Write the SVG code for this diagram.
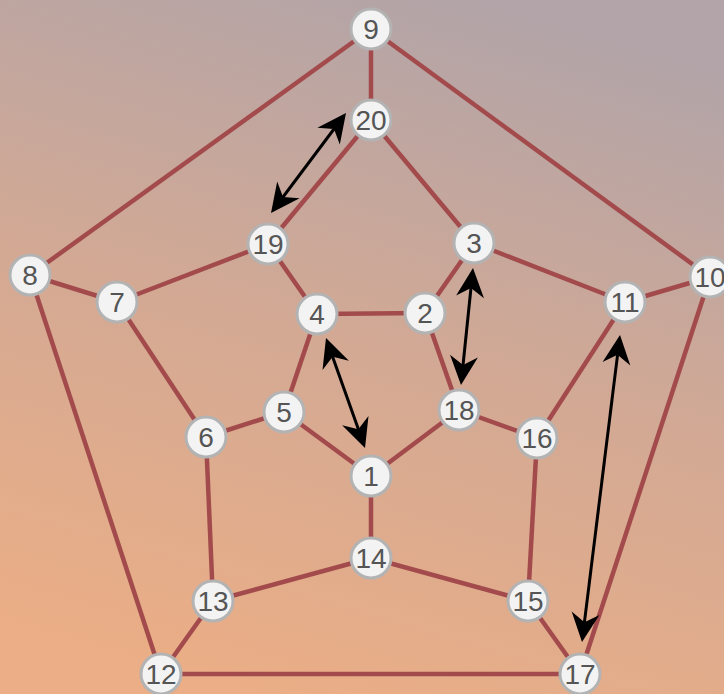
<svg xmlns="http://www.w3.org/2000/svg" width="724" height="694" viewBox="0 0 724 694">
<defs>
<linearGradient id="bg" x1="0.65" y1="0" x2="0.35" y2="1">
<stop offset="0" stop-color="#b2a4a8"/>
<stop offset="0.5" stop-color="#d3a994"/>
<stop offset="1" stop-color="#ebae86"/>
</linearGradient>
<path id="head" d="M0,0 L-29,-14 L-20,0 L-29,14 z" fill="#000"/>
<style>
.e{stroke:#a34b4c;stroke-width:4.5;fill:none}
.a{stroke:#000;stroke-width:3;fill:none}
.n circle{fill:#f3f3f3;stroke:#b3b3b3;stroke-width:3}
.n text{font-family:"Liberation Sans",Arial,sans-serif;font-size:28px;fill:#555;text-anchor:middle}
</style>
</defs>
<rect width="724" height="694" fill="url(#bg)"/>
<g id="edges">
<line class="e" x1="371" y1="29" x2="371" y2="120"/>
<line class="e" x1="371" y1="29" x2="30" y2="275"/>
<line class="e" x1="371" y1="29" x2="710" y2="277"/>
<line class="e" x1="371" y1="120" x2="268" y2="244"/>
<line class="e" x1="371" y1="120" x2="474" y2="243"/>
<line class="e" x1="268" y1="244" x2="117" y2="302"/>
<line class="e" x1="268" y1="244" x2="317" y2="314"/>
<line class="e" x1="474" y1="243" x2="425" y2="313"/>
<line class="e" x1="474" y1="243" x2="625" y2="302"/>
<line class="e" x1="30" y1="275" x2="117" y2="302"/>
<line class="e" x1="30" y1="275" x2="161" y2="674"/>
<line class="e" x1="710" y1="277" x2="625" y2="302"/>
<line class="e" x1="710" y1="277" x2="580" y2="674"/>
<line class="e" x1="117" y1="302" x2="206" y2="437"/>
<line class="e" x1="625" y1="302" x2="537" y2="438"/>
<line class="e" x1="317" y1="314" x2="425" y2="313"/>
<line class="e" x1="317" y1="314" x2="284" y2="412"/>
<line class="e" x1="425" y1="313" x2="459" y2="410"/>
<line class="e" x1="284" y1="412" x2="206" y2="437"/>
<line class="e" x1="284" y1="412" x2="371" y2="476"/>
<line class="e" x1="459" y1="410" x2="371" y2="476"/>
<line class="e" x1="459" y1="410" x2="537" y2="438"/>
<line class="e" x1="206" y1="437" x2="213" y2="601"/>
<line class="e" x1="537" y1="438" x2="528" y2="601"/>
<line class="e" x1="371" y1="476" x2="371" y2="558"/>
<line class="e" x1="371" y1="558" x2="213" y2="601"/>
<line class="e" x1="371" y1="558" x2="528" y2="601"/>
<line class="e" x1="213" y1="601" x2="161" y2="674"/>
<line class="e" x1="528" y1="601" x2="580" y2="674"/>
<line class="e" x1="161" y1="674" x2="580" y2="674"/>
</g>
<g id="arrows">
<line class="a" x1="340" y1="121" x2="277" y2="205"/>
<use href="#head" transform="translate(346,113) rotate(-53.13)"/>
<use href="#head" transform="translate(271,213) rotate(126.87)"/>
<line class="a" x1="329.3" y1="347.4" x2="361.7" y2="438.6"/>
<use href="#head" transform="translate(326,338) rotate(-109.53)"/>
<use href="#head" transform="translate(365,448) rotate(70.47)"/>
<line class="a" x1="472" y1="278" x2="462" y2="375"/>
<use href="#head" transform="translate(473,268) rotate(-84.14)"/>
<use href="#head" transform="translate(461,385) rotate(95.86)"/>
<line class="a" x1="618.8" y1="344.9" x2="583.2" y2="632.1"/>
<use href="#head" transform="translate(620,335) rotate(-82.94)"/>
<use href="#head" transform="translate(582,642) rotate(97.06)"/>
</g>
<g id="n9" class="n"><circle cx="371" cy="29" r="20"/><text x="371" y="39">9</text></g>
<g id="n20" class="n"><circle cx="371" cy="120" r="20"/><text x="371" y="130">20</text></g>
<g id="n19" class="n"><circle cx="268" cy="244" r="20"/><text x="268" y="254">19</text></g>
<g id="n3" class="n"><circle cx="474" cy="243" r="20"/><text x="474" y="253">3</text></g>
<g id="n8" class="n"><circle cx="30" cy="275" r="20"/><text x="30" y="285">8</text></g>
<g id="n10" class="n"><circle cx="710" cy="277" r="20"/><text x="710" y="287">10</text></g>
<g id="n7" class="n"><circle cx="117" cy="302" r="20"/><text x="117" y="312">7</text></g>
<g id="n11" class="n"><circle cx="625" cy="302" r="20"/><text x="625" y="312">11</text></g>
<g id="n4" class="n"><circle cx="317" cy="314" r="20"/><text x="317" y="324">4</text></g>
<g id="n2" class="n"><circle cx="425" cy="313" r="20"/><text x="425" y="323">2</text></g>
<g id="n5" class="n"><circle cx="284" cy="412" r="20"/><text x="284" y="422">5</text></g>
<g id="n18" class="n"><circle cx="459" cy="410" r="20"/><text x="459" y="420">18</text></g>
<g id="n6" class="n"><circle cx="206" cy="437" r="20"/><text x="206" y="447">6</text></g>
<g id="n16" class="n"><circle cx="537" cy="438" r="20"/><text x="537" y="448">16</text></g>
<g id="n1" class="n"><circle cx="371" cy="476" r="20"/><text x="371" y="486">1</text></g>
<g id="n14" class="n"><circle cx="371" cy="558" r="20"/><text x="371" y="568">14</text></g>
<g id="n13" class="n"><circle cx="213" cy="601" r="20"/><text x="213" y="611">13</text></g>
<g id="n15" class="n"><circle cx="528" cy="601" r="20"/><text x="528" y="611">15</text></g>
<g id="n12" class="n"><circle cx="161" cy="674" r="20"/><text x="161" y="684">12</text></g>
<g id="n17" class="n"><circle cx="580" cy="674" r="20"/><text x="580" y="684">17</text></g>
</svg>
